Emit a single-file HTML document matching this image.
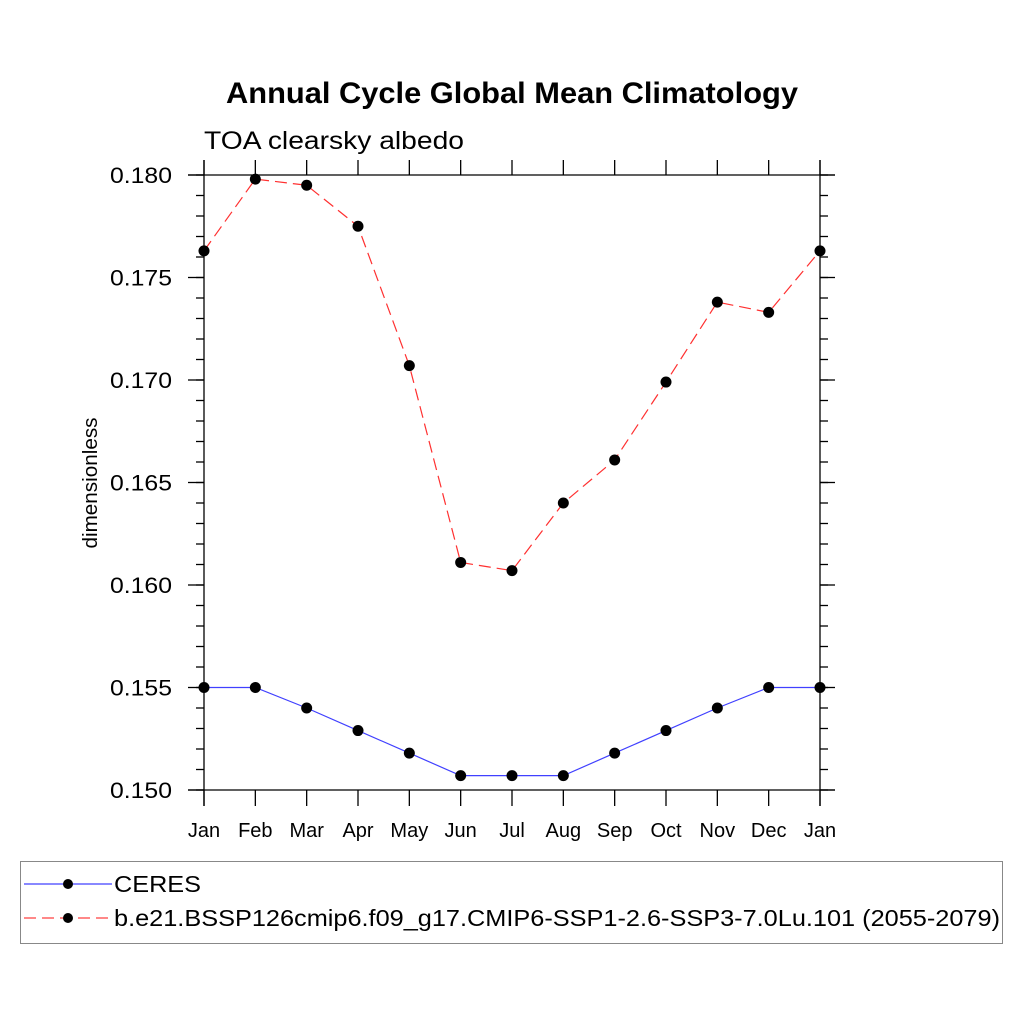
<!DOCTYPE html>
<html><head><meta charset="utf-8"><style>
body{margin:0;background:#fff}
svg text{font-family:"Liberation Sans",sans-serif}
</style></head><body>
<svg id="chart" width="1024" height="1024" viewBox="0 0 1024 1024" xmlns="http://www.w3.org/2000/svg">
<rect width="1024" height="1024" fill="#fff"/>
<text x="226" y="103" font-size="30" font-weight="bold" textLength="572" lengthAdjust="spacingAndGlyphs">Annual Cycle Global Mean Climatology</text>
<text x="204" y="149" font-size="25" textLength="260" lengthAdjust="spacingAndGlyphs">TOA clearsky albedo</text>
<text transform="translate(97,483) rotate(-90)" text-anchor="middle" font-size="20" textLength="131" lengthAdjust="spacingAndGlyphs">dimensionless</text>
<g id="axes"></g>
<g id="series"></g>
<rect x="20.5" y="861.5" width="982" height="82" fill="none" stroke="#888" stroke-width="1"/>
<g>
<line x1="24" y1="884" x2="112" y2="884" stroke="#4040ff" stroke-width="1.2"/>
<circle cx="68" cy="884" r="5" fill="#000"/>
<text x="114" y="892" font-size="23" textLength="87" lengthAdjust="spacingAndGlyphs">CERES</text>
</g>
<g>
<line x1="24" y1="918" x2="112" y2="918" stroke="#ff4040" stroke-width="1.2" stroke-dasharray="12,6"/>
<circle cx="68" cy="918" r="5" fill="#000"/>
<text x="114" y="926" font-size="23" textLength="886" lengthAdjust="spacingAndGlyphs">b.e21.BSSP126cmip6.f09_g17.CMIP6-SSP1-2.6-SSP3-7.0Lu.101 (2055-2079)</text>
</g>
</svg>
<script>
const months = ["Jan","Feb","Mar","Apr","May","Jun","Jul","Aug","Sep","Oct","Nov","Dec","Jan"];
const ceres = [0.1550,0.1550,0.1540,0.1529,0.1518,0.1507,0.1507,0.1507,0.1518,0.1529,0.1540,0.1550,0.1550];
const model = [0.1763,0.1798,0.1795,0.1775,0.1707,0.1611,0.1607,0.1640,0.1661,0.1699,0.1738,0.1733,0.1763];
const yTicks = [0.150,0.155,0.160,0.165,0.170,0.175,0.180];
const yTickLabels = ["0.150","0.155","0.160","0.165","0.170","0.175","0.180"];

const NS="http://www.w3.org/2000/svg";
const X0=204,X1=820,Y0=790,Y1=175,YMIN=0.150,YMAX=0.180;
const xs=i=>X0+(X1-X0)*i/(months.length-1);
const ys=v=>Y0-(v-YMIN)/(YMAX-YMIN)*(Y0-Y1);
function mk(tag,attrs,parent){const e=document.createElementNS(NS,tag);for(const k in attrs)e.setAttribute(k,attrs[k]);parent.appendChild(e);return e;}
const ax=document.getElementById('axes'),sg=document.getElementById('series');
const st={stroke:"#000","stroke-width":1.3};
let e;
e=mk('line',Object.assign({x1:X0,y1:160,x2:X0,y2:806},st),ax);


e=mk('line',Object.assign({x1:X1,y1:160,x2:X1,y2:806},st),ax);


e=mk('line',Object.assign({x1:188,y1:Y0,x2:835,y2:Y0},st),ax);


e=mk('line',Object.assign({x1:188,y1:Y1,x2:835,y2:Y1},st),ax);


months.forEach((m,i)=>{
  const x=xs(i);
  mk('line',Object.assign({x1:x,y1:Y0,x2:x,y2:806},st),ax);
  mk('line',Object.assign({x1:x,y1:Y1,x2:x,y2:160},st),ax);
  const t=mk('text',{x:x,y:837,"text-anchor":"middle","font-size":20},ax);
  t.textContent=m;
  
  
});
for(let v=YMIN;v<=YMAX+1e-9;v+=0.001){
  const y=ys(v);
  mk('line',Object.assign({x1:X0-8,y1:y,x2:X0,y2:y},st),ax);
  mk('line',Object.assign({x1:X1,y1:y,x2:X1+8,y2:y},st),ax);
}
yTicks.forEach((v,i)=>{
  const y=ys(v);
  mk('line',Object.assign({x1:188,y1:y,x2:X0,y2:y},st),ax);
  mk('line',Object.assign({x1:X1,y1:y,x2:835,y2:y},st),ax);
  const t=mk('text',{x:110,y:y+8,"font-size":22,textLength:62,lengthAdjust:"spacingAndGlyphs"},ax);
  t.textContent=yTickLabels[i];
  
  
});
function series(vals,color,dash,name){
  const pts=vals.map((v,i)=>xs(i)+","+ys(v)).join(" ");
  const l=mk('polyline',{points:pts,fill:"none",stroke:color,"stroke-width":1.2},sg);
  if(dash)l.setAttribute('stroke-dasharray',dash);
  
  
  vals.forEach((v,i)=>{
    const c=mk('circle',{cx:xs(i),cy:ys(v),r:5.5,fill:"#000"},sg);
    
    
  });
}
series(ceres,"#4040ff",null,"ceres");
series(model,"#ff3030","12,6","model");
</script>
</body></html>
